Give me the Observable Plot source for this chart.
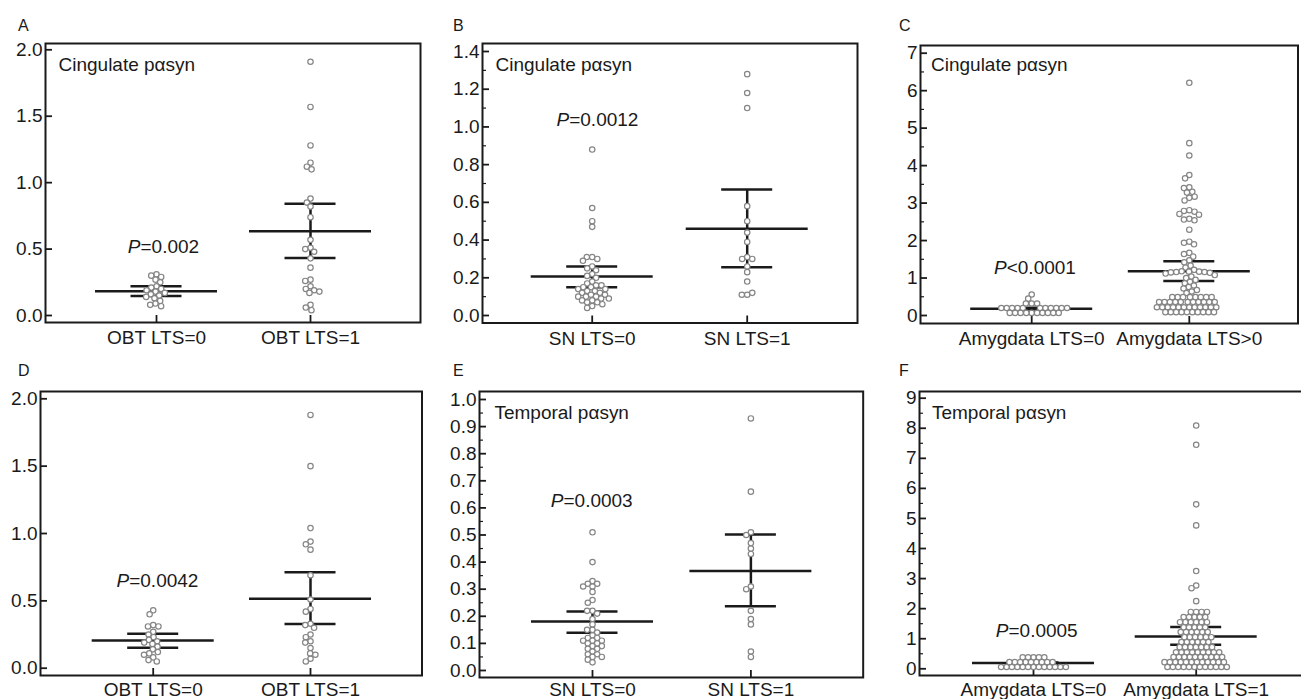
<!DOCTYPE html>
<html>
<head>
<meta charset="utf-8">
<script src="https://cdn.jsdelivr.net/npm/d3@7"></script>
<script src="https://cdn.jsdelivr.net/npm/@observablehq/plot@0.6"></script>
<style>
  html, body { margin: 0; padding: 0; background: #fff; }
  body { width: 1301px; height: 699px; overflow: hidden; position: relative;
         font-family: "Liberation Sans", Arial, sans-serif; color: #1a1a1a; }
  .panel { position: absolute; }
  .letter { position: absolute; font-size: 16px; line-height: 16px; }
</style>
</head>
<body>
<script>
// ---------- Panel A : Cingulate, OBT ----------
const groupsA = ["OBT LTS=0", "OBT LTS=1"];
const valuesA0 = [0.31, 0.30, 0.29, 0.27, 0.25, 0.22, 0.21, 0.20, 0.19, 0.18, 0.17, 0.16, 0.15, 0.14, 0.13, 0.11, 0.09, 0.08, 0.07];
const valuesA1 = [1.91, 1.57, 1.28, 1.15, 1.12, 1.10, 0.88, 0.85, 0.82, 0.74, 0.57, 0.51, 0.50, 0.48, 0.43, 0.36, 0.27, 0.26, 0.22, 0.20, 0.19, 0.18, 0.17, 0.08, 0.06, 0.04];
const meanA = [0.183, 0.635];
const lowA = [0.146, 0.432];
const highA = [0.221, 0.841];
const ticksA = [0, 0.5, 1.0, 1.5, 2.0];

// ---------- Panel B : Cingulate, SN ----------
const groupsB = ["SN LTS=0", "SN LTS=1"];
const valuesB0 = [0.88, 0.57, 0.50, 0.47, 0.31, 0.31, 0.30, 0.29, 0.26, 0.25, 0.24, 0.22, 0.21, 0.20, 0.18, 0.17, 0.16, 0.16, 0.15, 0.15, 0.14, 0.14, 0.13, 0.13, 0.12, 0.12, 0.11, 0.11, 0.10, 0.10, 0.10, 0.09, 0.09, 0.08, 0.08, 0.07, 0.07, 0.06, 0.05, 0.04];
const valuesB1 = [1.28, 1.18, 1.10, 0.58, 0.50, 0.44, 0.39, 0.31, 0.30, 0.30, 0.26, 0.23, 0.18, 0.11, 0.11, 0.12];
const meanB = [0.207, 0.46];
const lowB = [0.150, 0.256];
const highB = [0.260, 0.668];
const ticksB = [0, 0.2, 0.4, 0.6, 0.8, 1.0, 1.2, 1.4];
const minorB = [0.1, 0.3, 0.5, 0.7, 0.9, 1.1, 1.3];

// ---------- Panel C : Cingulate, Amygdala ----------
const groupsC = ["Amygdata LTS=0", "Amygdata LTS>0"];
const valuesC0 = [0.56, 0.45, 0.32, 0.32, 0.32,
  0.20, 0.20, 0.20, 0.20, 0.20, 0.20, 0.20, 0.20, 0.20, 0.20, 0.20,
  0.07, 0.07, 0.07, 0.07, 0.07, 0.07, 0.07, 0.07, 0.07, 0.07];
const valuesC1 = [6.21, 4.60, 4.27, 3.75, 3.66, 3.42, 3.40, 3.30, 3.28, 3.17, 3.14, 3.07, 2.81, 2.79, 2.77, 2.71, 2.69, 2.58, 2.56, 2.54, 2.29, 1.97, 1.94, 1.90, 1.67, 1.64, 1.57, 1.47, 1.42,
  1.33, 1.28, 1.22, 1.18, 1.17, 1.17, 1.16, 1.16, 1.15, 1.14, 1.12, 1.08, 1.04, 1.00, 0.95, 0.90, 0.86, 0.80, 0.76, 0.72, 0.68, 0.64, 0.60,
  0.49, 0.49, 0.49, 0.49, 0.49, 0.49, 0.49, 0.49,
  0.36, 0.36, 0.36, 0.36, 0.36, 0.36, 0.36, 0.36, 0.36, 0.36, 0.36,
  0.22, 0.22, 0.22, 0.22, 0.22, 0.22, 0.22, 0.22, 0.22, 0.22, 0.22, 0.22,
  0.09, 0.09, 0.09, 0.09, 0.09, 0.09, 0.09, 0.09, 0.09, 0.09];
const meanC = [0.18, 1.18];
const lowC = [0.16, 0.92];
const highC = [0.21, 1.45];
const ticksC = [0, 1, 2, 3, 4, 5, 6, 7];
const minorC = [0.5, 1.5, 2.5, 3.5, 4.5, 5.5, 6.5];

// ---------- Panel D : OBT (no region label) ----------
const groupsD = ["OBT LTS=0", "OBT LTS=1"];
const valuesD0 = [0.43, 0.40, 0.32, 0.31, 0.31, 0.27, 0.25, 0.23, 0.21, 0.20, 0.19, 0.18, 0.16, 0.14, 0.12, 0.11, 0.10, 0.08, 0.06, 0.05];
const valuesD1 = [1.88, 1.50, 1.04, 0.94, 0.92, 0.88, 0.69, 0.51, 0.44, 0.42, 0.33, 0.32, 0.30, 0.25, 0.23, 0.20, 0.19, 0.15, 0.11, 0.10, 0.07, 0.05];
const meanD = [0.205, 0.515];
const lowD = [0.151, 0.329];
const highD = [0.255, 0.713];
const ticksD = [0, 0.5, 1.0, 1.5, 2.0];

// ---------- Panel E : Temporal, SN ----------
const groupsE = ["SN LTS=0", "SN LTS=1"];
const valuesE0 = [0.51, 0.40, 0.33, 0.32, 0.32, 0.31, 0.31, 0.29, 0.26, 0.25, 0.22, 0.22, 0.21, 0.19, 0.17, 0.15, 0.15, 0.14, 0.13, 0.12, 0.12, 0.11, 0.11, 0.11, 0.10, 0.10, 0.09, 0.09, 0.08, 0.08, 0.07, 0.06, 0.06, 0.05, 0.05, 0.04, 0.03];
const valuesE1 = [0.93, 0.66, 0.51, 0.50, 0.47, 0.45, 0.43, 0.31, 0.30, 0.22, 0.19, 0.17, 0.07, 0.05];
const meanE = [0.181, 0.367];
const lowE = [0.139, 0.237];
const highE = [0.218, 0.502];
const ticksE = [0, 0.1, 0.2, 0.3, 0.4, 0.5, 0.6, 0.7, 0.8, 0.9, 1.0];
const minorE = [0.05, 0.15, 0.25, 0.35, 0.45, 0.55, 0.65, 0.75, 0.85, 0.95];

// ---------- Panel F : Temporal, Amygdala ----------
const groupsF = ["Amygdata LTS=0", "Amygdata LTS=1"];
const valuesF0 = [0.38, 0.38, 0.38, 0.38, 0.38,
  0.22, 0.22, 0.22, 0.22, 0.22, 0.22, 0.22, 0.22, 0.22,
  0.06, 0.06, 0.06, 0.06, 0.06, 0.06, 0.06, 0.06, 0.06, 0.06, 0.06, 0.06, 0.06];
const valuesF1 = [8.09, 7.45, 5.47, 4.77, 3.25, 2.77, 2.68, 2.25,
  1.89, 1.89, 1.89, 1.89,
  1.72, 1.72, 1.72, 1.72, 1.72,
  1.55, 1.55, 1.55, 1.55, 1.55, 1.55,
  1.38, 1.38, 1.38, 1.38, 1.38,
  1.22, 1.22, 1.22, 1.22, 1.22, 1.22,
  1.05, 1.05, 1.05, 1.05, 1.05, 1.05,
  0.89, 0.89, 0.89, 0.89, 0.89, 0.89,
  0.72, 0.72, 0.72, 0.72, 0.72, 0.72, 0.72,
  0.55, 0.55, 0.55, 0.55, 0.55, 0.55, 0.55, 0.55, 0.55,
  0.39, 0.39, 0.39, 0.39, 0.39, 0.39, 0.39, 0.39, 0.39, 0.39,
  0.22, 0.22, 0.22, 0.22, 0.22, 0.22, 0.22, 0.22, 0.22, 0.22, 0.22, 0.22,
  0.06, 0.06, 0.06, 0.06, 0.06, 0.06, 0.06, 0.06, 0.06, 0.06, 0.06, 0.06];
const meanF = [0.19, 1.075];
const lowF = [0.17, 0.80];
const highF = [0.21, 1.386];
const ticksF = [0, 1, 2, 3, 4, 5, 6, 7, 8, 9];
const minorF = [0.5, 1.5, 2.5, 3.5, 4.5, 5.5, 6.5, 7.5, 8.5];

// ---------- annotation texts ----------
const regionLabels = ["Cingulate p\u03b1syn", "Cingulate p\u03b1syn", "Cingulate p\u03b1syn", null, "Temporal p\u03b1syn", "Temporal p\u03b1syn"];
const pTexts = ["=0.002", "=0.0012", "<0.0001", "=0.0042", "=0.0003", "=0.0005"];
const pYs = [0.514, 1.038, 1.262, 0.646, 0.627, 1.25];
const letters = ["A", "B", "C", "D", "E", "F"];

// ---------- layout (page pixels): frame [left, right, top, bottom], group centres, y pixel of 0 and of max ----------
const layouts = [
  {frame: [45, 420, 43, 322],      centers: [156, 310],       yPx: [315, 49.3],    letter: [18, 18],   pdx: -16, lab: [13, 13.5],   xPad: 15},
  {frame: [482, 857, 43, 322.5],   centers: [591.7, 746.7],   yPx: [315, 51],      letter: [453, 18],  pdx: -23, lab: [13, 13.5],   xPad: 15},
  {frame: [919.5, 1297, 45, 323],  centers: [1030.7, 1188.3], yPx: [315, 52.7],    letter: [899, 18],  pdx: -25, lab: [10.5, 11.5], xPad: 15},
  {frame: [40, 421.5, 391, 675],   centers: [152.7, 310],     yPx: [667.7, 398.3], letter: [18, 363],  pdx: -24, lab: [13, 13.5],   xPad: 14},
  {frame: [479.3, 863, 391, 677],  centers: [592.3, 750.7],   yPx: [670, 399],     letter: [453, 363], pdx: -29, lab: [15, 14],     xPad: 12},
  {frame: [919.3, 1304, 391, 675], centers: [1033.3, 1196],   yPx: [668.3, 397.7], letter: [899, 363], pdx: -25, lab: [12.5, 14],   xPad: 14}
];

const panels = [
  {groups: groupsA, values: [valuesA0, valuesA1], mean: meanA, low: lowA, high: highA, ticks: ticksA, minor: [], fmt: d3.format(".1f"), ymax: 2.0},
  {groups: groupsB, values: [valuesB0, valuesB1], mean: meanB, low: lowB, high: highB, ticks: ticksB, minor: minorB, fmt: d3.format(".1f"), ymax: 1.4},
  {groups: groupsC, values: [valuesC0, valuesC1], mean: meanC, low: lowC, high: highC, ticks: ticksC, minor: minorC, fmt: d3.format("d"), ymax: 7},
  {groups: groupsD, values: [valuesD0, valuesD1], mean: meanD, low: lowD, high: highD, ticks: ticksD, minor: [], fmt: d3.format(".1f"), ymax: 2.0},
  {groups: groupsE, values: [valuesE0, valuesE1], mean: meanE, low: lowE, high: highE, ticks: ticksE, minor: minorE, fmt: d3.format(".1f"), ymax: 1.0},
  {groups: groupsF, values: [valuesF0, valuesF1], mean: meanF, low: lowF, high: highF, ticks: ticksF, minor: minorF, fmt: d3.format("d"), ymax: 9}
];

const INK = "#1a1a1a";
const DOT = "#858585";
const R = 2.7;

panels.forEach((p, k) => {
  const L = layouts[k];
  const mL = 40, mR = 4, mT = 4, mB = 30;
  const [fL, fR, fT, fB] = L.frame;
  const svgLeft = fL - mL, svgTop = fT - mT;
  const width = fR - fL + mL + mR;
  const height = Math.min(fB - fT + mT + mB, 699 - svgTop);
  const mBottom = height - (fB - fT + mT);
  const W = fR - fL, mid = (fL + fR) / 2;
  // x is measured in pixels from the middle of the frame; groups sit at these x positions
  const xg = L.centers.map(c => c - mid);

  const stats = p.groups.map((g, i) => ({x: xg[i], mean: p.mean[i], lo: p.low[i], hi: p.high[i]}));
  const pData = [{x: xg[0] + L.pdx, y: pYs[k], t: pTexts[k]}];

  const marks = [
    Plot.frame({stroke: INK, strokeWidth: 2}),
    Plot.axisY({ticks: p.ticks, tickFormat: p.fmt, tickSize: -7, tickPadding: 10, strokeWidth: 1.8, label: null, fill: INK}),
    p.minor.length ? Plot.axisY({ticks: p.minor, tickFormat: () => "", tickSize: -4, tickPadding: 0, strokeWidth: 1.2, label: null}) : null,
    Plot.axisX({anchor: "bottom", ticks: xg, tickFormat: d => p.groups[xg.indexOf(d)], tickSize: -7, tickPadding: L.xPad, strokeWidth: 1.8, label: null, fill: INK}),
    Plot.ruleX(stats, {x: "x", y1: "lo", y2: "hi", stroke: INK, strokeWidth: 2.5}),
    Plot.ruleY(stats, {y: "mean", x1: d => d.x - 61, x2: d => d.x + 61, stroke: INK, strokeWidth: 2.5}),
    Plot.ruleY(stats, {y: "lo", x1: d => d.x - 25.5, x2: d => d.x + 25.5, stroke: INK, strokeWidth: 2.5}),
    Plot.ruleY(stats, {y: "hi", x1: d => d.x - 25.5, x2: d => d.x + 25.5, stroke: INK, strokeWidth: 2.5}),
    ...p.values.map((vals, i) => Plot.dot(vals, Plot.dodgeX({anchor: "middle", padding: 0, r: R},
      {y: d => d, r: R, dx: xg[i], fill: "white", stroke: DOT, strokeWidth: 1.2}))),
    Plot.text(pData, {x: "x", y: "y", text: () => "P", textAnchor: "end", fontStyle: "italic", fill: INK}),
    Plot.text(pData, {x: "x", y: "y", text: "t", textAnchor: "start", fill: INK})
  ];
  if (regionLabels[k]) {
    marks.push(Plot.text([regionLabels[k]], {frameAnchor: "top-left", text: d => d,
      dx: L.lab[0], dy: L.lab[1], lineAnchor: "top", textAnchor: "start", fill: INK}));
  }

  const chart = Plot.plot({
    width, height,
    marginLeft: mL, marginRight: mR, marginTop: mT, marginBottom: mBottom,
    style: {fontFamily: "'Liberation Sans', Arial, sans-serif", fontSize: "19px", color: INK, background: "transparent", overflow: "visible"},
    x: {domain: [-W / 2, W / 2]},
    y: {domain: [0, p.ymax], range: [L.yPx[0] - svgTop, L.yPx[1] - svgTop]},
    marks
  });
  chart.classList.add("panel");
  chart.style.left = svgLeft + "px";
  chart.style.top = svgTop + "px";
  document.body.appendChild(chart);

  const lt = document.createElement("div");
  lt.className = "letter";
  lt.textContent = letters[k];
  lt.style.left = L.letter[0] + "px";
  lt.style.top = L.letter[1] + "px";
  document.body.appendChild(lt);
});
</script>
</body>
</html>
